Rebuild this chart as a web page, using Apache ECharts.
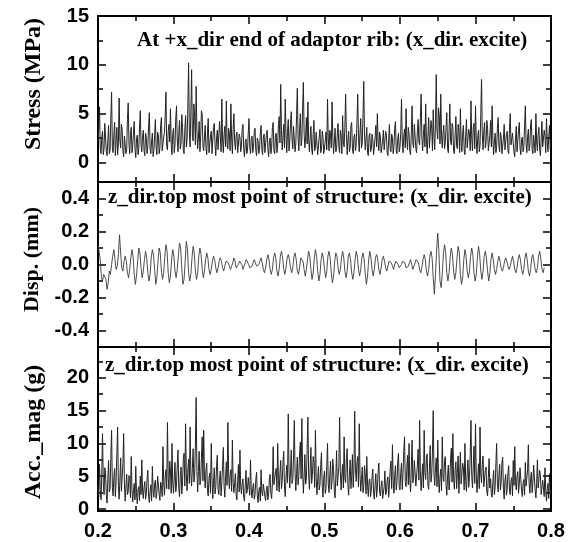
<!DOCTYPE html>
<html><head><meta charset="utf-8">
<script src="https://cdn.jsdelivr.net/npm/echarts@6/dist/echarts.min.js"></script>
<style>html,body{margin:0;padding:0;background:#fff}#c{width:571px;height:542px}</style>
</head><body><div id="c"></div>
<script>
// sampling of the recorded signals
const tStart = 0.2;
const stressStep = 0.001;
const accStep = 0.001;
const dispStep = 0.0015;

// Stress (MPa)
const stress = [
2.1,3.4,5.7,1.6,0.9,2.5,3.2,0.8,1.4,4.0,2.6,1.1,0.7,2.2,3.8,0.9,1.2,4.6,7.2,1.5,
1.0,2.8,4.1,0.7,2.2,3.6,0.8,1.9,6.6,2.3,1.5,3.9,3.4,1.2,0.6,2.7,2.9,0.9,1.3,4.4,
6.1,2.0,0.9,2.9,3.6,1.0,1.7,3.1,4.2,1.3,0.5,2.4,2.8,0.8,1.4,3.5,5.3,1.8,1.1,2.6,
3.3,1.2,0.7,3.0,2.5,0.9,1.6,3.7,5.1,1.4,0.9,2.2,3.0,0.6,1.2,2.8,4.4,1.5,0.8,3.1,
2.7,0.9,1.5,3.8,4.6,1.2,1.0,2.6,3.1,4.8,7.2,1.6,1.3,3.2,3.9,2.1,5.5,1.7,0.8,2.9,
3.5,1.0,1.8,4.5,5.8,2.2,1.1,3.0,4.3,1.4,2.0,4.9,3.6,1.3,0.9,3.3,4.8,1.6,2.4,5.6,
10.2,3.1,1.6,5.2,9.5,2.7,2.2,6.0,4.7,1.8,7.8,3.4,1.4,2.5,4.2,1.1,2.6,5.3,4.9,1.7,
1.2,2.6,3.8,1.5,0.8,3.1,4.5,1.0,1.9,2.7,3.2,0.9,1.1,3.6,4.0,1.8,0.7,2.4,3.3,1.3,
1.5,4.2,2.8,1.1,6.5,2.3,1.0,2.9,3.7,1.6,6.3,2.0,1.4,3.5,2.9,1.2,6.0,2.5,0.9,3.4,
5.0,2.2,1.3,2.7,3.1,1.0,0.8,2.9,2.6,1.1,1.7,3.4,3.9,1.4,0.6,2.0,2.4,0.9,1.2,3.0,
4.5,1.6,0.9,2.4,2.7,1.0,1.6,3.2,3.5,1.2,0.7,2.5,2.2,0.9,1.4,3.0,3.8,1.3,0.8,2.6,
2.9,1.0,1.1,2.8,3.3,1.4,0.6,2.1,2.5,0.9,1.5,3.6,4.1,1.2,0.9,2.7,3.0,1.0,1.8,3.9,
4.7,2.0,8.0,3.3,1.3,2.6,3.9,1.5,6.5,2.8,1.0,3.1,4.4,1.2,2.1,4.0,5.2,2.4,1.4,3.7,
3.6,1.1,1.9,4.8,7.6,2.5,1.2,3.4,5.0,1.7,2.3,5.5,8.2,3.0,1.5,2.6,4.6,1.9,6.2,2.4,
1.1,2.5,3.7,1.4,0.8,2.9,4.3,1.2,1.6,3.1,2.9,0.8,0.9,2.6,3.4,1.0,1.3,3.2,2.6,0.9,
0.7,2.2,3.1,1.3,6.5,2.4,1.2,3.3,2.8,1.5,6.2,2.7,0.9,2.1,3.5,1.1,1.4,3.0,4.0,1.6,
1.0,3.3,2.7,0.9,4.8,2.1,1.6,3.6,7.0,2.9,0.8,2.3,3.2,1.1,1.5,3.8,4.1,1.4,0.9,2.6,
2.9,1.2,1.8,4.1,7.0,2.6,1.1,3.0,4.5,1.5,2.0,4.7,8.3,2.8,1.3,2.4,3.6,1.0,0.7,2.7,
3.0,1.1,1.4,2.9,2.4,0.8,0.9,2.5,3.8,1.6,5.0,2.1,1.2,3.1,2.6,1.0,0.8,2.2,3.3,1.3,
1.5,3.2,2.8,1.0,0.7,2.3,3.9,1.4,1.1,2.9,2.5,0.9,1.7,3.5,4.2,1.2,0.9,2.4,3.0,1.1,
1.6,3.1,6.5,2.2,1.0,2.7,3.4,1.5,5.5,2.4,1.3,3.6,2.9,1.1,0.8,3.0,5.8,2.0,1.5,3.9,
3.7,1.4,1.0,3.2,4.4,2.1,1.8,4.6,7.0,2.5,1.2,2.8,3.9,1.6,6.0,2.3,0.9,2.7,4.6,1.5,
1.7,4.3,3.5,1.2,5.4,2.6,1.3,4.0,9.0,3.3,2.4,5.6,4.8,1.9,7.0,2.8,1.5,3.0,3.8,1.4,
2.1,3.6,5.1,1.5,1.0,3.3,6.0,2.2,1.8,4.0,3.6,1.2,0.9,2.8,4.7,1.7,1.4,3.9,3.2,1.0,
5.5,2.0,1.1,3.0,3.8,1.3,0.8,2.7,4.4,1.5,1.6,3.4,2.9,1.2,6.3,2.5,1.2,3.6,4.0,1.4,
5.8,2.3,0.9,2.6,3.3,1.1,1.7,4.9,8.5,2.9,1.3,3.2,4.1,1.5,2.0,4.3,3.5,1.2,1.0,2.8,
4.3,1.6,5.8,2.4,0.8,2.2,3.0,1.0,1.5,3.5,4.6,1.7,1.1,3.1,2.7,0.9,0.7,2.5,3.9,1.3,
1.4,2.9,3.2,1.2,0.9,3.4,5.0,1.8,1.6,3.0,2.8,1.0,0.6,2.4,3.7,1.1,1.3,3.3,4.1,1.5,
0.8,2.3,2.6,1.1,1.5,3.7,5.8,2.0,1.0,2.6,3.4,1.2,1.7,3.9,4.4,1.4,0.9,2.8,2.9,1.0,
5.0,2.1,1.2,2.9,3.6,1.3,0.7,2.5,4.2,1.6,1.5,3.3,2.7,1.0,4.5,2.2,1.1,2.6,3.8,1.4,
2.3
];

// Disp. (mm)
const disp = [
0.12,0.11,0.03,-0.08,-0.10,-0.06,
-0.05,-0.09,-0.15,-0.11,-0.04,-0.06,
0.00,0.05,0.09,0.03,-0.03,-0.01,
0.06,0.18,0.07,-0.02,-0.04,0.02,
0.05,0.02,-0.05,-0.08,-0.03,0.04,
0.09,0.05,-0.06,-0.12,-0.07,0.02,
0.10,0.07,-0.02,-0.08,-0.04,0.03,
0.08,0.04,-0.05,-0.10,-0.06,0.04,
0.09,0.06,-0.03,-0.12,-0.08,0.02,
0.10,0.07,-0.04,-0.09,-0.05,0.05,
0.12,0.08,-0.05,-0.11,-0.07,0.03,
0.09,0.05,-0.04,-0.08,-0.03,0.06,
0.13,0.10,-0.03,-0.12,-0.09,0.02,
0.14,0.09,-0.05,-0.10,-0.06,0.04,
0.11,0.07,-0.04,-0.09,-0.05,0.05,
0.10,0.06,-0.03,-0.08,-0.04,0.03,
0.07,0.04,-0.03,-0.06,-0.03,0.02,
0.05,0.03,-0.02,-0.05,-0.02,0.02,
0.04,0.02,-0.02,-0.04,-0.01,0.02,
0.03,0.01,-0.01,-0.03,-0.01,0.01,
0.04,0.02,-0.02,-0.03,0.00,0.02,
0.03,0.00,-0.03,-0.02,0.01,0.03,
0.02,0.00,-0.02,-0.03,-0.01,0.01,
0.03,0.01,-0.01,-0.02,0.00,0.02,
0.04,0.01,-0.03,-0.05,-0.02,0.03,
0.06,0.03,-0.03,-0.06,-0.03,0.04,
0.07,0.04,-0.04,-0.07,-0.03,0.05,
0.08,0.04,-0.03,-0.06,-0.02,0.04,
0.06,0.03,-0.02,-0.05,-0.02,0.05,
0.07,0.03,-0.04,-0.06,-0.02,0.04,
0.05,0.02,-0.03,-0.07,-0.03,0.03,
0.08,0.05,-0.03,-0.09,-0.05,0.04,
0.09,0.05,-0.04,-0.10,-0.06,0.03,
0.07,0.04,-0.03,-0.08,-0.04,0.05,
0.08,0.04,-0.05,-0.11,-0.07,0.02,
0.07,0.05,-0.02,-0.06,-0.03,0.04,
0.08,0.04,-0.04,-0.08,-0.04,0.05,
0.07,0.03,-0.05,-0.09,-0.05,0.03,
0.08,0.05,-0.03,-0.07,-0.03,0.04,
0.07,0.03,-0.06,-0.12,-0.07,0.03,
0.08,0.04,-0.03,-0.07,-0.03,0.04,
0.06,0.03,-0.03,-0.06,-0.02,0.03,
0.05,0.02,-0.02,-0.04,-0.01,0.02,
0.03,0.01,-0.01,-0.03,0.00,0.02,
0.02,0.00,-0.02,-0.02,0.00,0.02,
0.03,0.01,-0.02,-0.03,-0.01,0.01,
0.03,0.00,-0.03,-0.02,0.01,0.03,
0.04,0.01,-0.03,-0.05,-0.02,0.03,
0.06,0.03,-0.04,-0.07,-0.03,0.05,
0.08,0.04,-0.08,-0.18,-0.06,0.09,
0.19,0.08,-0.10,-0.14,-0.06,0.07,
0.12,0.07,-0.05,-0.10,-0.05,0.05,
0.10,0.06,-0.04,-0.09,-0.05,0.04,
0.11,0.07,-0.06,-0.12,-0.08,0.03,
0.09,0.05,-0.04,-0.08,-0.04,0.05,
0.10,0.06,-0.05,-0.10,-0.06,0.04,
0.11,0.06,-0.04,-0.09,-0.04,0.05,
0.08,0.04,-0.04,-0.10,-0.05,0.03,
0.07,0.03,-0.03,-0.06,-0.03,0.02,
0.05,0.02,-0.02,-0.04,-0.02,0.02,
0.04,0.02,-0.01,-0.03,-0.01,0.02,
0.05,0.02,-0.03,-0.05,-0.02,0.03,
0.06,0.03,-0.03,-0.06,-0.03,0.04,
0.07,0.03,-0.04,-0.07,-0.03,0.04,
0.06,0.02,-0.03,-0.05,-0.02,0.05,
0.08,0.04,-0.03,-0.05,-0.02
];

// Acc._mag (g)
const acc = [
3.5,1.8,6.8,3.0,1.4,5.2,11.5,4.0,2.2,6.3,5.6,2.1,0.9,4.5,7.4,2.6,3.1,7.9,12.0,3.3,
2.0,4.8,6.2,1.9,4.1,8.6,12.5,3.6,1.5,4.4,7.8,2.7,3.0,6.9,11.5,3.8,1.2,3.5,5.3,2.2,
2.6,5.1,4.7,1.7,8.0,3.0,1.1,2.8,3.9,1.4,6.5,2.5,0.8,2.9,3.4,1.3,5.0,2.2,7.5,2.9,
1.6,3.3,4.2,1.5,2.3,4.6,5.9,2.0,1.0,2.7,3.7,1.2,6.5,2.9,1.8,3.8,4.4,1.6,2.5,5.0,
5.2,2.3,1.3,4.1,3.6,1.9,9.5,4.2,2.1,5.0,6.0,3.1,13.2,4.8,3.0,7.3,5.8,2.4,10.0,3.9,
2.4,4.9,7.1,2.6,3.8,6.7,9.0,3.1,1.9,5.2,6.4,2.3,4.2,7.7,8.5,3.5,13.0,5.4,2.8,6.0,
7.6,3.9,12.5,5.3,3.5,6.2,9.2,4.1,5.0,9.8,17.0,5.9,2.6,5.7,8.8,3.7,4.4,7.9,11.0,4.3,
12.0,5.0,3.2,5.9,7.0,2.8,2.0,4.7,5.5,2.4,10.0,4.6,1.6,3.9,6.3,2.3,3.3,6.5,8.2,3.0,
2.2,4.4,5.8,2.0,4.0,6.6,9.4,3.4,1.8,4.9,7.2,3.6,13.2,5.5,3.1,5.1,6.0,2.7,10.5,4.0,
2.5,4.0,5.4,2.1,1.4,4.3,6.8,2.6,9.0,3.5,2.3,3.9,4.6,1.8,1.2,3.6,5.9,2.4,3.0,4.8,
4.8,2.1,7.5,2.9,1.7,3.2,3.9,1.5,2.2,4.4,5.6,2.0,1.0,2.7,3.3,1.2,6.0,2.6,2.0,3.8,
4.1,1.9,1.3,3.0,3.5,1.4,2.4,4.6,5.3,2.2,1.6,3.9,9.5,3.7,3.4,5.5,6.2,2.8,10.0,4.4,
2.6,5.5,7.4,3.1,4.3,7.0,8.8,3.5,1.9,4.7,6.7,4.0,14.5,6.1,3.2,5.8,9.0,3.9,4.5,8.1,
13.5,5.6,2.8,5.3,7.9,3.7,5.1,8.4,10.2,4.6,13.8,5.9,2.4,4.9,8.3,3.8,4.6,9.1,14.0,5.2,
3.0,6.2,9.4,3.9,5.3,8.0,7.1,3.3,12.0,4.8,2.2,4.5,6.5,2.9,3.7,6.8,8.6,3.4,1.8,4.7,
5.8,2.4,3.1,6.6,10.0,3.8,2.5,5.0,7.3,3.0,4.4,7.6,6.0,2.7,1.7,4.9,8.9,3.5,3.6,6.4,
14.0,5.7,2.9,5.4,6.8,3.2,11.0,4.6,4.0,7.7,9.2,3.6,2.1,5.2,7.5,3.1,5.0,8.3,3.3,6.1,
14.9,6.0,4.2,7.1,8.0,3.4,13.0,5.3,2.7,4.5,6.4,2.5,3.5,6.6,5.2,2.3,8.0,3.6,1.9,4.2,
4.6,1.9,2.8,4.9,6.1,2.4,1.5,3.7,5.4,1.8,3.2,5.6,7.0,2.6,2.0,3.5,4.3,1.6,1.3,3.4,
5.8,2.2,2.6,4.4,4.9,1.8,3.7,6.0,7.3,3.1,9.8,4.3,2.4,5.1,6.6,2.9,4.1,7.2,8.5,3.3,
2.9,5.6,7.0,3.0,5.5,8.9,11.0,4.2,3.4,6.1,8.2,3.7,10.0,4.5,2.6,6.3,10.5,4.0,4.8,7.4,
7.6,3.5,3.3,6.7,9.1,4.4,13.5,5.8,2.8,5.0,6.9,3.2,12.0,5.6,4.5,7.9,8.4,3.6,3.0,6.2,
9.7,4.1,5.2,8.6,15.0,5.4,3.6,6.3,7.8,3.4,10.5,4.7,2.5,4.9,6.1,2.8,11.0,5.0,4.2,7.3,
8.0,3.6,2.1,5.0,6.7,2.9,4.5,7.7,9.3,4.1,11.5,4.8,3.0,5.9,7.2,3.1,5.6,8.1,2.4,5.3,
8.7,3.8,3.9,7.0,6.3,2.9,10.0,4.4,2.7,5.5,7.5,3.3,4.8,8.2,13.5,5.1,3.2,6.4,9.6,3.9,
13.0,5.3,2.5,4.7,6.9,3.1,12.5,5.2,4.0,6.8,8.1,3.4,3.3,5.9,6.4,2.6,2.0,4.8,7.7,3.2,
4.6,2.3,1.8,4.2,5.9,2.2,3.4,6.9,10.0,3.9,2.6,5.1,6.8,2.9,4.1,7.0,7.9,3.0,1.5,4.4,
5.3,2.1,3.0,5.6,6.6,2.7,2.2,4.3,4.8,2.0,7.4,3.6,9.5,4.2,2.9,5.0,5.7,2.4,3.8,6.3,
6.2,2.8,1.9,3.9,4.5,2.1,7.1,3.5,3.2,6.0,9.8,4.0,2.4,4.6,5.6,2.5,4.0,6.7,6.9,2.9,
1.7,4.0,7.5,3.2,3.5,5.9,5.0,2.2,2.3,4.4,4.6,1.9,6.3,2.8,1.2,3.0,3.9,1.6,5.4,2.5,
2.8
];

// tick values
const xMajor = [0.2,0.3,0.4,0.5,0.6,0.7,0.8];
const xMinor = [0.25,0.35,0.45,0.55,0.65,0.75];
const stressMajor = [0,5,10,15];
const stressMinor = [2.5,7.5,12.5];
const dispMajor = [-0.4,-0.2,0,0.2,0.4];
const dispMinor = [-0.3,-0.1,0.1,0.3];
const accMajor = [0,5,10,15,20];
const accMinor = [2.5,7.5,12.5,17.5,22.5];

const names = ['Stress (MPa)','Disp. (mm)','Acc._mag (g)'];
const titles = ['At +x_dir end of adaptor rib: (x_dir. excite)',
  'z_dir.top most point of structure: (x_dir. excite)',
  'z_dir.top most point of structure: (x_dir. excite)'];

function pairs(vals, step){ return vals.map((v,i)=>[+(tStart+i*step).toFixed(5), v]); }

const serif = "'Liberation Serif','Times New Roman',serif";
const sans = "'Liberation Sans',Arial,sans-serif";

const panels = [
  {top:16, height:166, min:-2, max:15, major:stressMajor, minor:stressMinor, fmt:v=>String(v), data:pairs(stress,stressStep), color:'#222', w:1.0, nfs:24, npad:[0,0,0,30]},
  {top:182, height:165, min:-0.5, max:0.5, major:dispMajor, minor:dispMinor, fmt:v=>v.toFixed(1), data:pairs(disp,dispStep), color:'#3a3a3a', w:0.9, nfs:22, npad:[0,0,0,10]},
  {top:347, height:164, min:-0.3, max:24.7, major:accMajor, minor:accMinor, fmt:v=>String(v), data:pairs(acc,accStep), color:'#222', w:1.0, nfs:24, npad:[0,6,0,0]}
];

const grid=[], xAxis=[], yAxis=[], series=[];
panels.forEach((p,g)=>{
  grid.push({left:98, right:20, top:p.top, height:p.height, show:true, borderColor:'#000', borderWidth:2, backgroundColor:'transparent'});
  const xt = (pos, vals, len, labels)=>({
    type:'value', gridIndex:g, min:0.2, max:0.8, position:pos,
    axisLine:{show:false, onZero:false}, splitLine:{show:false},
    axisTick:{show:true, inside:true, length:len, customValues:vals, lineStyle:{color:'#000', width:1.5}},
    axisLabel: labels ? {show:true, customValues:xMajor, formatter:v=>v.toFixed(1), margin:10,
      fontFamily:sans, fontWeight:'bold', fontSize:20, color:'#000'} : {show:false}
  });
  xAxis.push(xt('bottom', xMajor, 8, g===2));
  xAxis.push(xt('bottom', xMinor, 5, false));
  xAxis.push(xt('top', xMajor, 8, false));
  xAxis.push(xt('top', xMinor, 5, false));
  const yt = (pos, vals, len, labels)=>({
    type:'value', gridIndex:g, min:p.min, max:p.max, position:pos,
    axisLine:{show:false, onZero:false}, splitLine:{show:false},
    axisTick:{show:true, inside:true, length:len, customValues:vals, lineStyle:{color:'#000', width:1.5}},
    axisLabel: labels ? {show:true, customValues:p.major, formatter:p.fmt, margin:9,
      fontFamily:sans, fontWeight:'bold', fontSize:20, color:'#000'} : {show:false},
    name: labels ? names[g] : '', nameLocation:'middle', nameGap:52, nameRotate:90,
    nameTextStyle:{fontFamily:serif, fontWeight:'bold', fontSize:p.nfs, color:'#000', padding:p.npad}
  });
  yAxis.push(yt('left', p.major, 8, true));
  yAxis.push(yt('left', p.minor, 5, false));
  yAxis.push(yt('right', p.major, 8, false));
  yAxis.push(yt('right', p.minor, 5, false));
  series.push({type:'line', xAxisIndex:g*4, yAxisIndex:g*4, data:p.data, showSymbol:false,
    symbol:'none', lineStyle:{color:p.color, width:p.w}, silent:true, z:1});
});

const ts = {fontFamily:serif, fontWeight:'bold', fontSize:21, color:'#000'};
const title = [
  {text:titles[0], left:137, top:30, padding:0, textStyle:ts},
  {text:titles[1], left:108, top:187, padding:0, textStyle:ts},
  {text:titles[2], left:105, top:355, padding:0, textStyle:ts}
];

const chart = echarts.init(document.getElementById('c'), null, {renderer:'canvas'});
chart.setOption({animation:false, backgroundColor:'#fff', title, grid, xAxis, yAxis, series});
</script></body></html>
